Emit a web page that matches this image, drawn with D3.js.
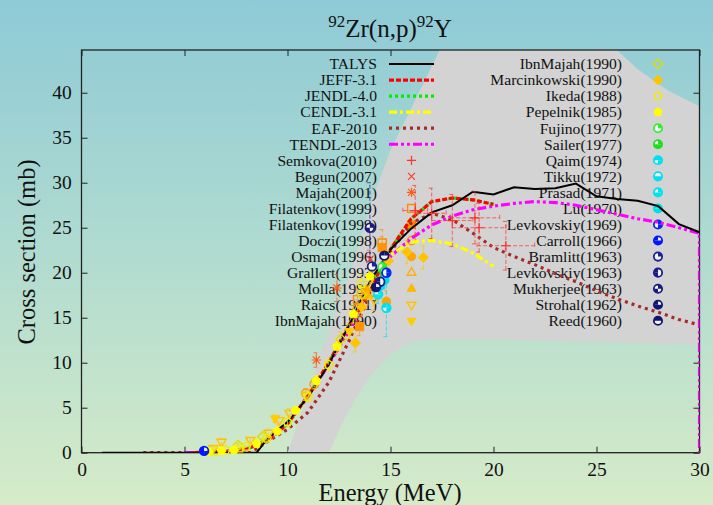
<!DOCTYPE html>
<html><head><meta charset="utf-8">
<script src="https://cdn.jsdelivr.net/npm/d3@7"></script>
<style>
html,body{margin:0;padding:0;background:#fff;}
svg{display:block;}
text{font-family:"Liberation Serif","Times New Roman",serif;fill:#111;}
</style>
</head><body>
<svg id="chart" width="713" height="505"></svg>
<script>
// ---------------- data ----------------
const xTicks = [0, 5, 10, 15, 20, 25, 30];
const yTicks = [0, 5, 10, 15, 20, 25, 30, 35, 40];

// evaluated cross sections (MeV, mb)
const talysE  = [1, 8.5, 9.0, 9.5, 10, 11, 12, 13, 14, 15, 16, 17, 18, 19, 20, 21, 22, 23, 24, 25, 26, 27, 28, 29, 30];
const talysXS = [0, 0, 1.5, 2.5, 3.4, 6.2, 9.8, 14.2, 19.0, 22.6, 24.9, 26.7, 27.5, 29.0, 28.7, 29.5, 29.3, 29.4, 29.9, 28.5, 28.2, 28.0, 27.4, 25.4, 24.5];
const jeffE   = [5.5, 6, 7, 8, 9, 10, 11, 12, 13, 14, 15, 16, 17, 18, 19, 20];
const jeffXS  = [0, 0.05, 0.15, 0.4, 1.3, 3.2, 6.3, 10.0, 14.2, 17.9, 22.6, 26.0, 27.9, 28.3, 28.1, 27.6];
const jendlE  = [5.5, 6, 7, 8, 9, 10, 11, 12, 13, 14, 15, 16, 17, 18, 19, 20];
const jendlXS = [0, 0.05, 0.15, 0.4, 1.3, 3.2, 6.3, 10.0, 14.2, 17.9, 22.6, 26.0, 27.9, 28.3, 28.1, 27.6];
const cendlE  = [5.5, 6, 7, 8, 9, 10, 11, 12, 13, 14, 14.5, 15, 16, 17, 18, 19, 20];
const cendlXS = [0, 0.05, 0.15, 0.4, 1.3, 3.2, 6.3, 10.0, 14.2, 18.4, 20.6, 22.0, 23.4, 23.6, 23.2, 22.2, 20.7];
const eafE    = [3, 8.2, 9, 10, 11, 12, 13, 14, 15, 16, 17, 18, 19, 20, 21, 22, 23, 24, 25, 26, 27, 28, 29, 30];
const eafXS   = [0, 0, 1.2, 2.6, 4.5, 7.8, 12.5, 17.5, 22.3, 25.5, 26.6, 25.9, 24.4, 22.8, 21.8, 20.9, 19.9, 19.0, 18.0, 17.1, 16.3, 15.6, 14.8, 14.2];
const tendlE  = [5, 6, 7, 8, 9, 10, 11, 12, 13, 14, 15, 16, 17, 18, 19, 20, 21, 22, 23, 24, 25, 26, 27, 28, 29, 30, 30];
const tendlXS = [0, 0.05, 0.15, 0.45, 1.4, 3.3, 6.3, 9.8, 13.6, 18.6, 21.8, 23.8, 25.3, 26.3, 27.0, 27.4, 27.7, 27.9, 27.8, 27.5, 27.0, 26.5, 26.0, 25.6, 25.0, 24.4, 0];

const libNames    = ["TALYS", "JEFF-3.1", "JENDL-4.0", "CENDL-3.1", "EAF-2010", "TENDL-2013"];
const libEnergies = [talysE, jeffE, jendlE, cendlE, eafE, tendlE];
const libValues   = [talysXS, jeffXS, jendlXS, cendlXS, eafXS, tendlXS];

// TENDL uncertainty envelope
const bandUpperE  = [10.0, 10.9, 11.5, 12.2, 13.1, 14.1, 15.0, 16.2, 17.4, 18.0, 25.4, 27.0, 28.5, 30];
const bandUpperXS = [0, 5.8, 10.3, 14.7, 20.3, 28.1, 33.6, 39.2, 44.8, 46, 46, 42.6, 40.2, 38.5];
const bandLowerE  = [12.0, 12.6, 13.3, 14.0, 15.0, 16.0, 17.0, 20, 25, 30];
const bandLowerXS = [0, 3, 6, 8.5, 11, 12.3, 12.6, 12.6, 12.3, 12.0];

// measurements: [E, sigma, dE, dSigma]
const semkova2010    = [[16.2,26.9,0.6,2.8],[17.0,26.6,0.7,2.8],[18.0,25.8,1.0,2.9],[19.1,26.1,1.2,2.9],[19.3,25.0,1.3,2.7],[20.6,23.0,1.4,2.7]];
const begun2007      = [[14.0,21.5,0,1.0]];
const majah2001      = [[11.4,10.3,0,0.8],[12.4,18.3,0,1.5]];
const filatenkov1999a= [[13.4,17.0,0,1.2],[14.6,23.3,0,1.5]];
const filatenkov1999b= [[13.5,14.0,0,1.0],[14.6,22.8,0,1.2]];
const doczi1998      = [[10.9,6.6,0,0.5],[11.3,7.6,0,0.6],[13.4,16.0,0,1.0]];
const osman1996      = [[14.8,16.8,0,1.2],[13.8,18.0,0,1.0]];
const grallert1993   = [[14.1,18.5,0,1.0],[14.6,19.6,0,1.0]];
const molla1991      = [[13.9,17.4,0,1.0],[14.5,19.0,0,1.0]];
const raics1991      = [[6.4,0.5,0,0.2],[6.8,1.2,0,0.4],[8.2,1.4,0,0.3],[9.1,2.2,0,0.4],[9.6,3.6,0,0.5],[10.1,4.4,0,0.5],[10.9,6.4,0,0.6],[14.2,17.0,0,1.2]];
const ibnMajah1990a  = [[9.4,3.8,0,0.4],[13.0,13.5,0,0.8]];
const ibnMajah1990b  = [[7.6,0.8,0,0.2],[8.8,1.8,0,0.3],[12.6,12.6,0,0.8],[13.6,17.6,0,1.0]];
const marcinkowski1990=[[13.3,12.2,0,1.0],[13.6,16.2,0,1.0],[14.9,21.3,0,1.2],[15.8,22.3,0,1.3],[16.6,21.7,0,1.3]];
const ikeda1988      = [[6.5,0.15,0,0],[7.0,0.3,0,0.1],[7.7,0.5,0,0.1],[8.0,0.7,0,0.1],[9.0,1.6,0,0.2],[10.0,3.4,0,0.3],[11.0,6.2,0,0.5],[12.0,9.8,0,0.7],[13.6,18.8,0,1.0],[14.1,20.6,0,1.0]];
const pepelnik1985   = [[6.2,0.1,0,0],[6.8,0.2,0,0],[7.4,0.3,0,0.1],[8.5,1.0,0,0.1],[9.5,2.4,0,0.2],[10.4,4.7,0,0.4],[11.4,8.0,0,0.6],[12.4,11.8,0,0.8],[13.2,15.4,0,1.0],[14.0,19.6,0,1.0]];
const fujino1977     = [[14.6,20.6,0,1.0]];
const sailer1977     = [[14.7,20.1,0,1.0]];
const qaim1974       = [[14.8,16.1,0,3.2]];
const tikku1972      = [[14.5,18.6,0,1.0]];
const prasad1971     = [[14.4,17.6,0,1.0]];
const lu1970         = [[14.7,19.2,0,1.0]];
const levkovskiy1969 = [[14.8,20.0,0,1.2]];
const carroll1966    = [[5.95,0.2,0,0.05]];
const bramlitt1963   = [[14.1,20.7,0,1.0]];
const levkovskiy1963 = [[14.5,19.0,0,1.0]];
const mukherjee1963  = [[14.0,25.0,0,5.0]];
const strohal1962    = [[14.3,18.4,0,1.5]];
const reed1960       = [[14.7,21.9,0,1.0]];

const expNames = ["Semkova(2010)","Begun(2007)","Majah(2001)","Filatenkov(1999)","Filatenkov(1999)","Doczi(1998)",
  "Osman(1996)","Grallert(1993)","Molla(1991)","Raics(1991)","IbnMajah(1990)","IbnMajah(1990)","Marcinkowski(1990)",
  "Ikeda(1988)","Pepelnik(1985)","Fujino(1977)","Sailer(1977)","Qaim(1974)","Tikku(1972)","Prasad(1971)","Lu(1970)",
  "Levkovskiy(1969)","Carroll(1966)","Bramlitt(1963)","Levkovskiy(1963)","Mukherjee(1963)","Strohal(1962)","Reed(1960)"];
const expData = [semkova2010, begun2007, majah2001, filatenkov1999a, filatenkov1999b, doczi1998, osman1996, grallert1993,
  molla1991, raics1991, ibnMajah1990a, ibnMajah1990b, marcinkowski1990, ikeda1988, pepelnik1985, fujino1977, sailer1977,
  qaim1974, tikku1972, prasad1971, lu1970, levkovskiy1969, carroll1966, bramlitt1963, levkovskiy1963, mukherjee1963,
  strohal1962, reed1960];

// ---------------- styles ----------------
const libStyles = [
  {color:"#000000", width:2,   dash:null},
  {color:"#ff0000", width:3.2, dash:"5,2"},
  {color:"#00ee00", width:3.2, dash:"3,3"},
  {color:"#ffff00", width:3.2, dash:"8,3,3,3"},
  {color:"#a52a2a", width:3.2, dash:"3,4"},
  {color:"#ff00ff", width:3.2, dash:"9,3,3,3,3,3"}
];
const expColors = ["#ff3030","#ff3a2a","#ff5a1a","#ff8a00","#ff9400","#ff9c00","#ffa500","#ffb000","#ffb800",
  "#ffc400","#ffcc00","#dede00","#ffc400","#eeee00","#ffff00","#33ee33","#22dd22","#00e0f0","#00e0f0","#00e4f0",
  "#00e0e8","#0028f0","#0018ff","#1c2296","#1a1a8c","#1a1a80","#141478","#141470"];
const expSymbols = ["plus","cross","star","square","squareFill","circle","circleFill","tri","triFill","triDown",
  "triDownFill","diamond","diamondFill","pent","pentFill",
  "pie:0","pie:0,1,2","pie:0,1,3","pie:1,2","pie:0,1,2","pie:0,1,2,3","pie:0,1","pie:1,2,3","pie:0",
  "pie:2,3","pie:0,2","pie:1,2,3","pie:0,3"];

// ---------------- chart ----------------
const svg = d3.select("#chart");
const W = 713, H = 505;
const X = d3.scaleLinear().domain([0, 30]).range([81.5, 699.5]);
const Y = d3.scaleLinear().domain([0, 44.75]).range([452.7, 50]);

const defs = svg.append("defs");
const grad = defs.append("linearGradient").attr("id", "bg").attr("x1", 0).attr("y1", 0).attr("x2", 0).attr("y2", 1);
grad.append("stop").attr("offset", "0").attr("stop-color", "#8ecad6");
grad.append("stop").attr("offset", "0.5").attr("stop-color", "#b0dbd0");
grad.append("stop").attr("offset", "1").attr("stop-color", "#d6ebc8");
defs.append("clipPath").attr("id", "plotClip").append("rect")
  .attr("x", X(0)).attr("y", Y(44.75)).attr("width", X(30) - X(0)).attr("height", Y(0) - Y(44.75));

svg.append("rect").attr("width", W).attr("height", H).attr("fill", "url(#bg)");

// ticks on all four sides, pointing inward
const tickStyle = g => {
  g.select(".domain").remove();
  g.selectAll(".tick line").attr("stroke", "#222").attr("stroke-width", 1);
  g.selectAll(".tick text").attr("fill", "#111").style("font-family", '"Liberation Serif",serif').style("font-size", "19.5px");
};
svg.append("g").attr("transform", `translate(0,${Y(0)})`)
  .call(d3.axisBottom(X).tickValues(xTicks).tickSize(-6).tickPadding(9.5).tickFormat(d3.format("d"))).call(tickStyle);
svg.append("g").attr("transform", `translate(0,${Y(44.75)})`)
  .call(d3.axisTop(X).tickValues(xTicks).tickSize(-6).tickFormat("")).call(tickStyle);
svg.append("g").attr("transform", `translate(${X(0)},0)`)
  .call(d3.axisLeft(Y).tickValues(yTicks).tickSize(-6).tickPadding(9.8).tickFormat(d3.format("d"))).call(tickStyle);
svg.append("g").attr("transform", `translate(${X(30)},0)`)
  .call(d3.axisRight(Y).tickValues(yTicks).tickSize(-6).tickFormat("")).call(tickStyle);

// uncertainty band
const bandPts = bandUpperE.map((e, i) => [e, bandUpperXS[i]])
  .concat(bandLowerE.map((e, i) => [e, bandLowerXS[i]]).reverse());
svg.append("path").attr("clip-path", "url(#plotClip)")
  .attr("d", d3.line().x(d => X(d[0])).y(d => Y(d[1]))(bandPts) + "Z")
  .attr("fill", "#d3d3d3");

// frame
svg.append("rect").attr("x", X(0)).attr("y", Y(44.75)).attr("width", X(30) - X(0)).attr("height", Y(0) - Y(44.75))
  .attr("fill", "none").attr("stroke", "#222").attr("stroke-width", 1.3);

// titles
const title = svg.append("text").attr("x", 390).attr("y", 37).attr("text-anchor", "middle").style("font-size", "25px");
title.append("tspan").text("92").style("font-size", "17px").attr("dy", -10);
title.append("tspan").text("Zr(n,p)").attr("dy", 10);
title.append("tspan").text("92").style("font-size", "17px").attr("dy", -10);
title.append("tspan").text("Y").attr("dy", 10);
svg.append("text").attr("x", 390).attr("y", 501).attr("text-anchor", "middle").style("font-size", "24.5px").text("Energy (MeV)");
svg.append("text").attr("transform", "translate(35,252) rotate(-90)").attr("text-anchor", "middle")
  .style("font-size", "24.5px").text("Cross section (mb)");

// symbol drawing
function drawSymbol(g, type, cx, cy, color, s) {
  const open = {fill: "none", stroke: color, "stroke-width": 1.4};
  const full = {fill: color, stroke: color, "stroke-width": 1};
  const poly = (pts, st) => {
    const p = g.append("path").attr("d", "M" + pts.map(q => q.join(",")).join("L") + "Z");
    Object.entries(st).forEach(([k, v]) => p.attr(k, v));
  };
  const reg = (n, r, rot) => d3.range(n).map(i => {
    const a = rot + i * 2 * Math.PI / n;
    return [cx + r * Math.sin(a), cy - r * Math.cos(a)];
  });
  if (type === "plus" || type === "cross" || type === "star") {
    let d = "";
    if (type !== "cross") d += `M${cx - s},${cy}H${cx + s}M${cx},${cy - s}V${cy + s}`;
    if (type !== "plus") { const t = s * 0.75; d += `M${cx - t},${cy - t}L${cx + t},${cy + t}M${cx - t},${cy + t}L${cx + t},${cy - t}`; }
    g.append("path").attr("d", d).attr("stroke", color).attr("stroke-width", 1.2).attr("fill", "none");
  } else if (type.startsWith("square")) {
    const t = s * 0.85;
    poly([[cx - t, cy - t], [cx + t, cy - t], [cx + t, cy + t], [cx - t, cy + t]], type.endsWith("Fill") ? full : open);
  } else if (type === "circle" || type === "circleFill") {
    const c = g.append("circle").attr("cx", cx).attr("cy", cy).attr("r", s * 0.9);
    const st = type === "circle" ? open : full;
    Object.entries(st).forEach(([k, v]) => c.attr(k, v));
  } else if (type.startsWith("triDown")) {
    poly(reg(3, s * 1.1, Math.PI), type.endsWith("Fill") ? full : open);
  } else if (type.startsWith("tri")) {
    poly(reg(3, s * 1.1, 0), type.endsWith("Fill") ? full : open);
  } else if (type.startsWith("diamond")) {
    poly(reg(4, s * 1.05, 0), type.endsWith("Fill") ? full : open);
  } else if (type.startsWith("pent")) {
    poly(reg(5, s * 0.95, 0), type.endsWith("Fill") ? full : open);
  } else if (type.startsWith("pie")) {
    const quarters = type.split(":")[1].split(",").map(Number);
    const r = s * 0.9;
    g.append("circle").attr("cx", cx).attr("cy", cy).attr("r", r).attr("fill", "#f4f4f4");
    quarters.forEach(q => {
      const a0 = q * Math.PI / 2, a1 = a0 + Math.PI / 2;
      const p0 = [cx + r * Math.sin(a0), cy - r * Math.cos(a0)];
      const p1 = [cx + r * Math.sin(a1), cy - r * Math.cos(a1)];
      g.append("path").attr("d", `M${cx},${cy}L${p0}A${r},${r} 0 0 1 ${p1}Z`).attr("fill", color);
    });
    g.append("circle").attr("cx", cx).attr("cy", cy).attr("r", r).attr("fill", "none")
      .attr("stroke", color).attr("stroke-width", 1.8);
  }
}

// legend (two columns of 17 rows)
const legendRows = libNames.map((n, i) => ({name: n, kind: "line", idx: i}))
  .concat(expNames.map((n, i) => ({name: n, kind: "sym", idx: i})));
const legend = svg.append("g");
const colText = [377, 622], colSample = [411.5, 658], rowY0 = 64, rowStep = 16.05;
legendRows.forEach((r, k) => {
  const col = k < 17 ? 0 : 1, row = k % 17;
  const y = rowY0 + row * rowStep;
  legend.append("text").attr("x", colText[col]).attr("y", y + 5.3).attr("text-anchor", "end")
    .style("font-size", "15.6px").text(r.name);
  if (r.kind === "line") {
    const st = libStyles[r.idx];
    legend.append("line").attr("x1", colSample[col] - 22.5).attr("x2", colSample[col] + 22.5)
      .attr("y1", y).attr("y2", y).attr("stroke", st.color).attr("stroke-width", st.width)
      .attr("stroke-dasharray", st.dash);
  } else {
    drawSymbol(legend, expSymbols[r.idx], colSample[col], y, expColors[r.idx], 4.6);
  }
});

// evaluated curves
const curves = svg.append("g").attr("clip-path", "url(#plotClip)");
const lineGen = d3.line().x(d => X(d[0])).y(d => Y(d[1]));
const drawOrder = [4, 5, 3, 2, 1, 0];
drawOrder.forEach(i => {
  const st = libStyles[i];
  const pts = libEnergies[i].map((e, j) => [e, libValues[i][j]]);
  curves.append("path").attr("d", lineGen(pts)).attr("fill", "none")
    .attr("stroke", st.color).attr("stroke-width", st.width).attr("stroke-dasharray", st.dash);
});

// measurements: dashed error bars, then markers
const expG = svg.append("g");
expData.forEach((pts, i) => {
  const c = expColors[i];
  pts.forEach(p => {
    const [e, v, de, dv] = p;
    const x = X(e), y = Y(v);
    if (dv > 0) {
      expG.append("path").attr("d", `M${x},${Y(v - dv)}V${Y(v + dv)}M${x - 3},${Y(v - dv)}H${x + 3}M${x - 3},${Y(v + dv)}H${x + 3}`)
        .attr("stroke", c).attr("stroke-width", 1).attr("stroke-dasharray", "4,2").attr("fill", "none").attr("opacity", 0.7);
    }
    if (de > 0) {
      expG.append("path").attr("d", `M${X(e - de)},${y}H${X(e + de)}M${X(e - de)},${y - 3}V${y + 3}M${X(e + de)},${y - 3}V${y + 3}`)
        .attr("stroke", c).attr("stroke-width", 1).attr("stroke-dasharray", "4,2").attr("fill", "none").attr("opacity", 0.7);
    }
  });
});
expData.forEach((pts, i) => {
  pts.forEach(p => drawSymbol(expG, expSymbols[i], X(p[0]), Y(p[1]), expColors[i], 4.8));
});
</script>
</body></html>
